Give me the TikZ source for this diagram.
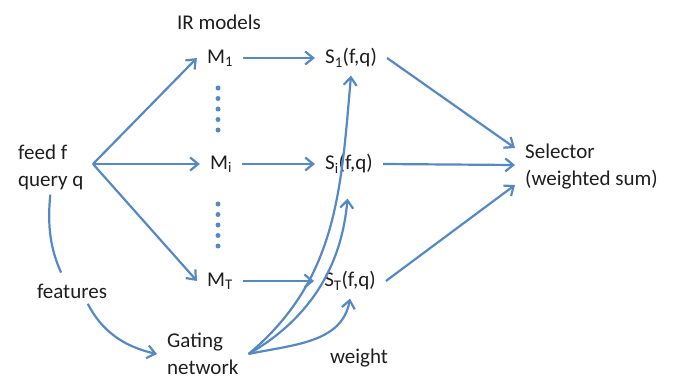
\documentclass[tikz,border=0pt]{standalone}
\usepackage{fontspec}
\setmainfont{Carlito}
\usepackage{xcolor}
\usetikzlibrary{arrows.meta}
\definecolor{gateblue}{RGB}{84,137,198}
\definecolor{labelink}{RGB}{30,30,30}

\tikzset{
  lbl/.style={text=labelink, inner sep=0pt, font=\fontsize{21}{27}\selectfont},
  model/.style={lbl, inner xsep=10pt, inner ysep=8pt},
  flow/.style={draw=gateblue, line width=2.2pt, -{Straight Barb[length=8pt,width=13pt]}},
  plain/.style={draw=gateblue, line width=2.2pt},
}

\begin{document}
\begin{tikzpicture}[x=1pt, y=-1pt]
    \useasboundingbox (0,0) rectangle (673,381);

    % Inputs
    \node[lbl, anchor=west, align=left] (feed) at (18,167) {feed f\\query q};
    \node[lbl] (feat) at (72,291) {features};
    \node[lbl, anchor=west, align=left, inner xsep=10pt] (gate) at (157,354) {Gating\\network};
    \coordinate (fan) at (93,164);

    % IR models
    \node[lbl] (irm) at (219,22) {IR models};
    \node[model] (m1) at (220,58) {M\textsubscript{1}};
    \node[model] (mi) at (221,164) {M\textsubscript{i}};
    \node[model] (mT) at (220,281) {M\textsubscript{T}};

    % Dots
    \foreach \y in {88,98.5,109,119.5,130} \fill[gateblue] (218,\y) circle (2.5pt);
    \foreach \y in {204,214.5,225,235.5,246} \fill[gateblue] (218,\y) circle (2.5pt);

    % Scores
    \node[model] (s1) at (351,58) {S\textsubscript{1}(f,q)};
    \node[model] (si) at (349,164) {S\textsubscript{i}(f,q)};
    \node[model] (sT) at (350,281) {S\textsubscript{T}(f,q)};

    % Selector and weight
    \node[lbl, anchor=west, align=left, inner xsep=10pt] (sel) at (515,167) {Selector\\(weighted sum)};
    \node[lbl] (wt) at (359,358) {weight};

    % Fan out to the models
    \draw[flow] (fan) -- (m1.west);
    \draw[flow] (fan) -- (mi.west);
    \draw[flow] (fan) -- (mT.west);

    % Models to scores
    \draw[flow] (m1) -- (s1);
    \draw[flow] (mi) -- (si);
    \draw[flow] (mT) -- (sT);

    % Scores to selector
    \draw[flow] (s1.east) -- ([yshift=19pt]sel.west);
    \draw[flow] (si.east) -- ([yshift=2pt]sel.west);
    \draw[flow] (sT.east) -- ([yshift=-18pt]sel.west);

    % Features and gating
    \draw[plain, shorten <=5pt, shorten >=12pt] (feed.south) to[bend right=15] ([xshift=-6pt]feat.north);
    \draw[flow, shorten <=6pt] ([xshift=13pt]feat.south) to[bend right=25] (gate.west);

    % Weights
    \draw[flow] (gate.east) to[out=40, in=-95] (s1.south);
    \draw[flow, shorten >=17pt] (gate.east) to[out=30, in=-95] (si.south);
    \draw[flow] (gate.east) to[out=12, in=-100] (sT.south);
\end{tikzpicture}
\end{document}
